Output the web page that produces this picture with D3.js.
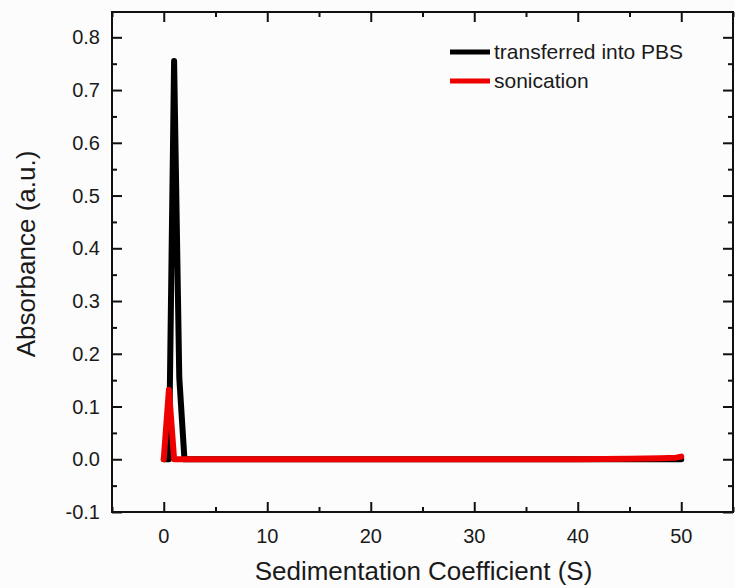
<!DOCTYPE html>
<html lang="en">
<head>
<meta charset="UTF-8">
<title>Sedimentation Coefficient</title>
<script src="https://cdn.jsdelivr.net/npm/d3@7"></script>
<style>
    body { margin: 0; background: #fcfcfc; font-family: "Liberation Sans", Arial, sans-serif; }
</style>
</head>
<body>
<div id="chart"></div>
<script>
// data
const pbsX = [0, 0.5, 1.0, 1.5, 2.0, 10, 20, 30, 40, 50];
const pbsY = [0, 0, 0.755, 0.155, 0, 0, 0, 0, 0, 0];
const sonX = [0, 0.5, 1.0, 10, 20, 30, 40, 45, 48, 49.5, 50];
const sonY = [0, 0.132, 0, 0, 0, 0, 0, 0.001, 0.002, 0.003, 0.005];
const seriesNames = ["transferred into PBS", "sonication"];
const seriesColors = ["#000000", "#ee0000"];
const xTicks = [0, 10, 20, 30, 40, 50];
const yTicks = [-0.1, 0, 0.1, 0.2, 0.3, 0.4, 0.5, 0.6, 0.7, 0.8];

const W = 735, H = 588;
const margin = {top: 12, right: 2, bottom: 76, left: 112};
const width = W - margin.left - margin.right;
const height = H - margin.top - margin.bottom;

const svg = d3.select("#chart").append("svg")
    .attr("width", W).attr("height", H);
const g = svg.append("g")
    .attr("transform", `translate(${margin.left},${margin.top})`);

const x = d3.scaleLinear().domain([-5, 55]).range([0, width]);
const y = d3.scaleLinear().domain([-0.1, 0.848]).range([height, 0]);

// ticks inside on all four sides
const minorX = d3.range(-5, 56, 5).filter(v => v % 10 !== 0);
const minorY = d3.range(-0.05, 0.85, 0.1);
function tickSet(gen, vals, len) {
    return gen.tickValues(vals).tickSize(len).tickFormat("");
}
g.append("g").attr("transform", `translate(0,${height})`)
    .call(tickSet(d3.axisTop(x), xTicks, 10));
g.append("g").attr("transform", `translate(0,${height})`)
    .call(tickSet(d3.axisTop(x), minorX, 5));
g.append("g").call(tickSet(d3.axisBottom(x), xTicks, 10));
g.append("g").call(tickSet(d3.axisBottom(x), minorX, 5));
g.append("g").call(tickSet(d3.axisRight(y), yTicks, 10));
g.append("g").call(tickSet(d3.axisRight(y), minorY, 5));
g.append("g").attr("transform", `translate(${width},0)`)
    .call(tickSet(d3.axisLeft(y), yTicks, 10));
g.append("g").attr("transform", `translate(${width},0)`)
    .call(tickSet(d3.axisLeft(y), minorY, 5));
g.selectAll(".domain").remove();
g.selectAll(".tick line").attr("stroke", "#111").attr("stroke-width", 2);

// frame
g.append("rect")
    .attr("width", width).attr("height", height)
    .attr("fill", "none").attr("stroke", "#111").attr("stroke-width", 2);

// tick labels
g.selectAll(".xlab").data(xTicks).enter().append("text")
    .attr("x", d => x(d)).attr("y", height + 31)
    .attr("text-anchor", "middle")
    .style("font-size", "20px").attr("fill", "#1a1a1a")
    .text(d => d);
g.selectAll(".ylab").data(yTicks).enter().append("text")
    .attr("x", -12).attr("y", d => y(d)).attr("dy", "0.35em")
    .attr("text-anchor", "end")
    .style("font-size", "20px").attr("fill", "#1a1a1a")
    .text(d => d.toFixed(1));

// lines
const line = d3.line().x(d => x(d[0])).y(d => y(d[1]));
const series = [d3.zip(pbsX, pbsY), d3.zip(sonX, sonY)];
series.forEach((s, i) => {
    g.append("path").datum(s)
        .attr("d", line)
        .attr("fill", "none")
        .attr("stroke", seriesColors[i])
        .attr("stroke-width", 6)
        .attr("stroke-linejoin", "round")
        .attr("stroke-linecap", "round");
});

// legend
const leg = svg.append("g");
seriesNames.forEach((n, i) => {
    const ly = 52 + i * 29;
    leg.append("line")
        .attr("x1", 450).attr("x2", 490).attr("y1", ly).attr("y2", ly)
        .attr("stroke", seriesColors[i]).attr("stroke-width", 5);
    leg.append("text")
        .attr("x", 494).attr("y", ly).attr("dy", "0.35em")
        .style("font-size", "21px").attr("fill", "#1a1a1a")
        .text(n);
});

// axis titles
svg.append("text")
    .attr("x", margin.left + width / 2 + 1).attr("y", 580)
    .attr("text-anchor", "middle")
    .style("font-size", "26px").attr("fill", "#1a1a1a")
    .text("Sedimentation Coefficient (S)");
svg.append("text")
    .attr("transform", "rotate(-90)")
    .attr("x", -(margin.top + height / 2) + 8).attr("y", 35)
    .attr("text-anchor", "middle")
    .style("font-size", "26px").attr("fill", "#1a1a1a")
    .text("Absorbance (a.u.)");
</script>
</body>
</html>
